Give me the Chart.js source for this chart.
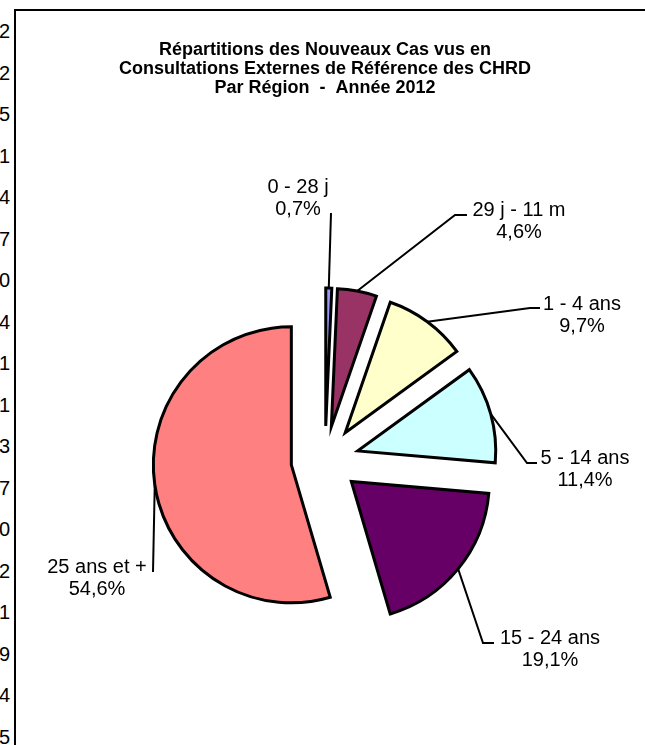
<!DOCTYPE html>
<html>
<head>
<meta charset="utf-8">
<script src="https://cdn.jsdelivr.net/npm/chart.js@4"></script>
<style>
body{margin:0;width:645px;height:745px;overflow:hidden;background:#fff;position:relative;font-family:Arial,"Liberation Sans",sans-serif;}
#frame{position:absolute;left:14px;top:9px;width:700px;height:800px;border-left:2px solid #000;border-top:2px solid #000;}
#cells{position:absolute;left:-40px;top:11px;width:50px;}
#cells div{height:41.5px;line-height:41.5px;text-align:right;font-size:20px;color:#000;}
canvas{position:absolute;left:0;top:0;}
</style>
</head>
<body>
<div id="cells"></div>
<div id="frame"></div>
<canvas id="pie" width="645" height="745"></canvas>
<script>
const categories = ['0 - 28 j', '29 j - 11 m', '1 - 4 ans', '5 - 14 ans', '15 - 24 ans', '25 ans et +'];
const percents = [0.7, 4.6, 9.7, 11.4, 19.1, 54.6];
const sliceColors = ['#9999FF', '#993366', '#FFFFCC', '#CCFFFF', '#660066', '#FF8080'];
const titleLines = [
    'Répartitions des Nouveaux Cas vus en',
    'Consultations Externes de Référence des CHRD',
    'Par Région  -  Année 2012'
];
// values of the sheet cells that peek out left of the chart
const cellDigits = [2, 2, 5, 1, 4, 7, 0, 4, 1, 1, 3, 7, 0, 2, 1, 9, 4, 5];

// text centre of each label + bend of its leader line
const labelSpots = [
    {tx: 298, ty: 187, bx: 331, by: 213, ex: 331},
    {tx: 519, ty: 210, bx: 455, by: 215, ex: 467},
    {tx: 582, ty: 304, bx: 530, by: 308, ex: 540},
    {tx: 585, ty: 458, bx: 527, by: 463, ex: 537},
    {tx: 550, ty: 638, bx: 483, by: 643, ex: 494},
    {tx: 97, ty: 567, bx: 153, by: 572, ex: 153}
];
const EXPLODE = 34;
const FONT = 'Arial, "Liberation Sans", sans-serif';

const cells = document.getElementById('cells');
cellDigits.forEach(d => {
    const el = document.createElement('div');
    el.textContent = d;
    cells.appendChild(el);
});

// pull every slice out from the centre along its middle angle
const explodePlugin = {
    id: 'explode',
    afterDatasetUpdate(chart, args) {
        args.meta.data.forEach(arc => {
            const mid = (arc.startAngle + arc.endAngle) / 2;
            arc.x += Math.cos(mid) * EXPLODE;
            arc.y += Math.sin(mid) * EXPLODE;
        });
    }
};

const leaderPlugin = {
    id: 'leaders',
    afterDraw(chart) {
        const ctx = chart.ctx;
        const arcs = chart.getDatasetMeta(0).data;
        ctx.save();
        ctx.strokeStyle = '#000';
        ctx.lineWidth = 2;
        ctx.fillStyle = '#000';
        ctx.font = '20px ' + FONT;
        ctx.textAlign = 'center';
        ctx.textBaseline = 'middle';
        arcs.forEach((arc, i) => {
            const s = labelSpots[i];
            const mid = (arc.startAngle + arc.endAngle) / 2;
            const ax = arc.x + Math.cos(mid) * arc.outerRadius;
            const ay = arc.y + Math.sin(mid) * arc.outerRadius;
            ctx.beginPath();
            ctx.moveTo(ax, ay);
            ctx.lineTo(s.bx, s.by);
            ctx.lineTo(s.ex, s.by);
            ctx.stroke();
            ctx.fillText(categories[i], s.tx, s.ty);
            ctx.fillText(percents[i].toFixed(1).replace('.', ',') + '%', s.tx, s.ty + 22);
        });
        ctx.restore();
    }
};

var ctx = document.getElementById('pie').getContext('2d');
var pieChart = new Chart(ctx, {
    type: 'pie',
    data: {
        labels: categories,
        datasets: [{
            data: percents,
            backgroundColor: sliceColors,
            borderColor: '#000',
            borderWidth: 3,
            borderJoinStyle: 'miter',
            radius: 138
        }]
    },
    options: {
        responsive: false,
        animation: false,
        events: [],
        layout: {padding: {left: 5, right: 0, top: 0, bottom: 0}},
        plugins: {
            legend: {display: false},
            tooltip: {enabled: false},
            title: {
                display: true,
                text: titleLines,
                color: '#000',
                font: {family: FONT, size: 18, weight: 'bold', lineHeight: 1.05},
                padding: {top: 40.5, bottom: 77.8}
            }
        }
    },
    plugins: [explodePlugin, leaderPlugin]
});
</script>
</body>
</html>
